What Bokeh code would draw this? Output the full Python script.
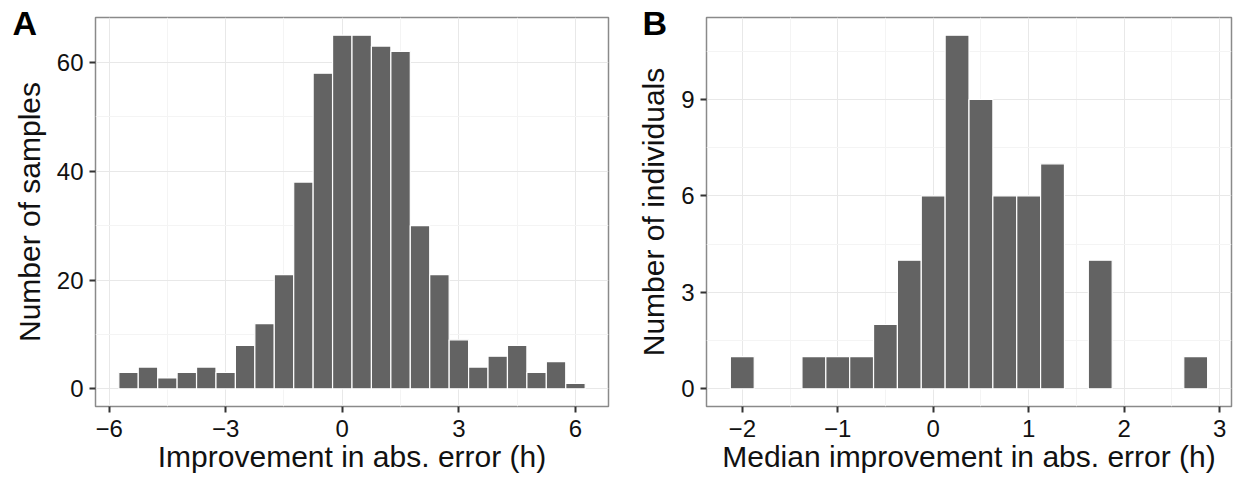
from bokeh.plotting import figure
from bokeh.layouts import row
from bokeh.models import FixedTicker, CustomJSTickFormatter, Range1d
from bokeh.embed import file_html
from bokeh.resources import INLINE

# ---- Panel A data: histogram of improvement in abs. error (h), bin width 0.5
a_centers = [-5.5, -5.0, -4.5, -4.0, -3.5, -3.0, -2.5, -2.0, -1.5, -1.0, -0.5, 0.0,
             0.5, 1.0, 1.5, 2.0, 2.5, 3.0, 3.5, 4.0, 4.5, 5.0, 5.5, 6.0]
a_counts = [3, 4, 2, 3, 4, 3, 8, 12, 21, 38, 58, 65,
            65, 63, 62, 30, 21, 9, 4, 6, 8, 3, 5, 1]
a_binwidth = 0.5
a_xticks = [-6, -3, 0, 3, 6]
a_xminor = [-4.5, -1.5, 1.5, 4.5]
a_yticks = [0, 20, 40, 60]
a_yminor = [10, 30, 50]

# ---- Panel B data: histogram of median improvement, bin width 0.25
b_centers = [-2.0, -1.25, -1.0, -0.75, -0.5, -0.25, 0.0, 0.25, 0.5, 0.75, 1.0, 1.25, 1.75, 2.75]
b_counts = [1, 1, 1, 1, 2, 4, 6, 11, 9, 6, 6, 7, 4, 1]
b_binwidth = 0.25
b_xticks = [-2, -1, 0, 1, 2, 3]
b_xminor = [-1.5, -0.5, 0.5, 1.5, 2.5]
b_yticks = [0, 3, 6, 9]
b_yminor = [1.5, 4.5, 7.5, 10.5]

FONT = "Liberation Sans"
BAR = "#636363"

fmt_code = "return (tick < 0 ? '\\u2212' + Math.abs(tick) : '' + tick);"


def make_panel(centers, counts, bw, xt, xm, yt, ym, xlab, ylab, letter,
               width, mbl, mbr, xr, yr, letter_offset):
    p = figure(width=width, height=479, output_backend="svg", toolbar_location=None,
               min_border_left=mbl, min_border_right=mbr, min_border_top=17,
               min_border_bottom=73,
               x_range=Range1d(*xr), y_range=Range1d(*yr))
    left = [c - bw / 2 for c in centers]
    right = [c + bw / 2 for c in centers]
    p.quad(left=left, right=right, top=counts, bottom=0,
           fill_color=BAR, line_color="white", line_width=1.2)
    p.xaxis.ticker = FixedTicker(ticks=xt, minor_ticks=xm)
    p.yaxis.ticker = FixedTicker(ticks=yt, minor_ticks=ym)
    p.xaxis.formatter = CustomJSTickFormatter(code=fmt_code)
    p.yaxis.formatter = CustomJSTickFormatter(code=fmt_code)
    for ax in (p.xaxis[0], p.yaxis[0]):
        ax.axis_line_color = None
        ax.major_tick_in = 0
        ax.major_tick_out = 6
        ax.major_tick_line_color = "#333333"
        ax.major_tick_line_width = 2
        ax.minor_tick_line_color = None
        ax.major_label_text_font = FONT
        ax.major_label_text_font_size = "24px"
        ax.major_label_text_color = "#111111"
        ax.axis_label_text_font = FONT
        ax.axis_label_text_font_size = "30px"
        ax.axis_label_text_font_style = "normal"
        ax.axis_label_text_color = "#111111"
    p.xaxis.axis_label = xlab
    p.yaxis.axis_label = ylab
    p.xaxis.major_label_standoff = 7
    p.xaxis.axis_label_standoff = 0
    p.yaxis.major_label_standoff = 6
    p.yaxis.axis_label_standoff = 8
    p.xgrid.grid_line_color = "#e8e8e8"
    p.ygrid.grid_line_color = "#e8e8e8"
    p.xgrid.minor_grid_line_color = "#f4f4f4"
    p.ygrid.minor_grid_line_color = "#f4f4f4"
    p.outline_line_color = "#8a8a8a"
    p.outline_line_width = 1.5
    p.background_fill_color = "white"
    p.border_fill_color = "white"
    # panel letter as a left-aligned title pulled down next to the frame
    p.title.text = letter
    p.title.align = "left"
    p.title.offset = letter_offset
    p.title.standoff = -49
    p.title.text_font = FONT
    p.title.text_font_size = "34px"
    p.title.text_font_style = "bold"
    p.title.text_color = "black"
    return p


pa = make_panel(a_centers, a_counts, a_binwidth, a_xticks, a_xminor, a_yticks, a_yminor,
                "Improvement in abs. error (h)", "Number of samples", "A",
                620, 95, 12, (-6.35, 6.85), (-3.25, 68.25), -83)
pb = make_panel(b_centers, b_counts, b_binwidth, b_xticks, b_xminor, b_yticks, b_yminor,
                "Median improvement in abs. error (h)", "Number of individuals", "B",
                613, 86, 2, (-2.375, 3.125), (-0.55, 11.55), -64)

layout = row(pa, pb)
open("out.html", "w").write(file_html(layout, INLINE))
